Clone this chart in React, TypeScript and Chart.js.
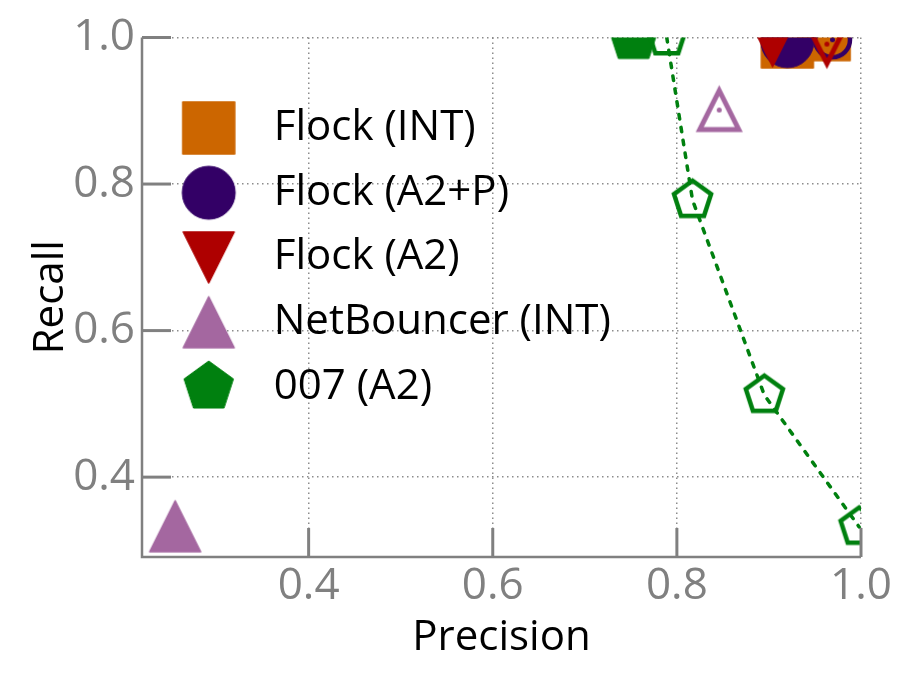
import React, { useEffect, useRef } from 'react';
import { Chart, registerables } from 'chart.js';

Chart.register(...registerables);

// ---- data ----
const xTickValues = [0.4, 0.6, 0.8, 1.0];
const yTickValues = [0.4, 0.6, 0.8, 1.0];
const xLimits = [0.219, 1.0];
const yLimits = [0.291, 1.0];

const seriesLabels = ['Flock (INT)', 'Flock (A2+P)', 'Flock (A2)', 'NetBouncer (INT)', '007 (A2)'];

const flockIntPrecision = [0.92, 0.96];
const flockIntRecall = [0.994, 1.004];
const flockIntHollow = [false, false];

const flockA2PPrecision = [0.92, 0.969];
const flockA2PRecall = [0.995, 0.997];
const flockA2PHollow = [false, true];

const flockA2Precision = [0.904, 0.963];
const flockA2Recall = [0.995, 0.991];
const flockA2Hollow = [false, true];

const netBouncerPrecision = [0.255, 0.846];
const netBouncerRecall = [0.333, 0.901];
const netBouncerHollow = [false, true];

const sevenPrecision = [0.753];
const sevenRecall = [1.0];

const sevenSweepPrecision = [0.789, 0.817, 0.895, 0.998];
const sevenSweepRecall = [1.0, 0.778, 0.512, 0.332];

// ---- styles ----
const ORANGE = '#CC6600';
const PURPLE = '#330066';
const RED = '#AE0000';
const MAUVE = '#A467A0';
const GREEN = '#00800F';
const GRAY = '#808080';
const FONT = 'Open Sans';

type Shape = 'square' | 'circle' | 'triUp' | 'triDown' | 'pentagon';

function makeMarker(shape: Shape, half: number, color: string, filled: boolean, lw: number, dot = false) {
  const size = Math.ceil(2 * half + lw * 4 + 6);
  const cv = document.createElement('canvas');
  cv.width = size;
  cv.height = size;
  const ctx = cv.getContext('2d')!;
  const c = size / 2;
  ctx.beginPath();
  if (shape === 'square') {
    ctx.rect(c - half, c - half, 2 * half, 2 * half);
  } else if (shape === 'circle') {
    ctx.arc(c, c, half, 0, Math.PI * 2);
  } else if (shape === 'triUp') {
    ctx.moveTo(c, c - half);
    ctx.lineTo(c + half, c + half);
    ctx.lineTo(c - half, c + half);
    ctx.closePath();
  } else if (shape === 'triDown') {
    ctx.moveTo(c, c + half);
    ctx.lineTo(c - half, c - half);
    ctx.lineTo(c + half, c - half);
    ctx.closePath();
  } else {
    for (let k = 0; k < 5; k++) {
      const a = -Math.PI / 2 + (k * 2 * Math.PI) / 5;
      const px = c + half * Math.cos(a);
      const py = c + half * Math.sin(a);
      if (k === 0) ctx.moveTo(px, py);
      else ctx.lineTo(px, py);
    }
    ctx.closePath();
  }
  ctx.lineJoin = filled ? 'round' : 'miter';
  ctx.lineWidth = lw;
  ctx.strokeStyle = color;
  if (filled) {
    ctx.fillStyle = color;
    ctx.fill();
  }
  ctx.stroke();
  if (dot) {
    ctx.beginPath();
    ctx.arc(c, c, 2.5, 0, Math.PI * 2);
    ctx.fillStyle = color;
    ctx.fill();
  }
  return cv;
}

function toPoints(xs: number[], ys: number[]) {
  return xs.map((x, i) => ({ x, y: ys[i] }));
}

export default function App() {
  const ref = useRef<HTMLCanvasElement>(null);

  useEffect(() => {
    if (!ref.current) return;

    const filled = {
      square: makeMarker('square', 26, ORANGE, true, 1.5),
      circle: makeMarker('circle', 26.5, PURPLE, true, 1),
      triDown: makeMarker('triDown', 25.5, RED, true, 1.5),
      triUp: makeMarker('triUp', 25.5, MAUVE, true, 1.5),
      pentagon: makeMarker('pentagon', 26, GREEN, true, 1),
    };
    const hollow = {
      square: makeMarker('square', 19, ORANGE, false, 4.5),
      circle: makeMarker('circle', 17.5, PURPLE, false, 4.5, true),
      triDown: makeMarker('triDown', 19.5, RED, false, 5, true),
      triUp: makeMarker('triUp', 19.5, MAUVE, false, 5, true),
      pentagon: makeMarker('pentagon', 19.5, GREEN, false, 4.5),
    };

    const styleFor = (key: keyof typeof filled, hollowFlags: boolean[]) => (ctx: any) =>
      hollowFlags[ctx.dataIndex] ? hollow[key] : filled[key];

    const base = { showLine: false, pointRadius: 22, clip: 0 };

    const inwardTicks = {
      id: 'inwardTicks',
      afterDatasetsDraw(chart: any) {
        const { ctx, chartArea: a, scales } = chart;
        ctx.save();
        ctx.strokeStyle = GRAY;
        ctx.lineWidth = 3;
        ctx.lineCap = 'butt';
        xTickValues.forEach((v) => {
          const px = scales.x.getPixelForValue(v);
          ctx.beginPath();
          ctx.moveTo(px, a.bottom);
          ctx.lineTo(px, a.bottom - 29);
          ctx.stroke();
        });
        yTickValues.forEach((v) => {
          const py = scales.y.getPixelForValue(v);
          ctx.beginPath();
          ctx.moveTo(a.left, py);
          ctx.lineTo(a.left + 29, py);
          ctx.stroke();
        });
        ctx.lineWidth = 2.5;
        ctx.beginPath();
        ctx.moveTo(a.left, a.top);
        ctx.lineTo(a.left, a.bottom);
        ctx.lineTo(a.right, a.bottom);
        ctx.stroke();
        ctx.restore();
      },
    };

    const chart = new Chart(ref.current, {
      type: 'scatter',
      data: {
        datasets: [
          {
            ...base,
            label: seriesLabels[0],
            data: toPoints(flockIntPrecision, flockIntRecall),
            pointStyle: styleFor('square', flockIntHollow),
            order: 6,
          },
          {
            ...base,
            label: seriesLabels[1],
            data: toPoints(flockA2PPrecision, flockA2PRecall),
            pointStyle: styleFor('circle', flockA2PHollow),
            order: 5,
          },
          {
            ...base,
            label: seriesLabels[2],
            data: toPoints(flockA2Precision, flockA2Recall),
            pointStyle: styleFor('triDown', flockA2Hollow),
            order: 4,
          },
          {
            ...base,
            label: seriesLabels[3],
            data: toPoints(netBouncerPrecision, netBouncerRecall),
            pointStyle: styleFor('triUp', netBouncerHollow),
            order: 3,
          },
          {
            ...base,
            label: seriesLabels[4],
            data: toPoints(sevenPrecision, sevenRecall),
            pointStyle: filled.pentagon,
            order: 2,
          },
          {
            ...base,
            label: seriesLabels[4] + ' sweep',
            data: toPoints(sevenSweepPrecision, sevenSweepRecall),
            pointStyle: hollow.pentagon,
            showLine: true,
            borderColor: GREEN,
            borderWidth: 3.5,
            borderDash: [4.5, 8.5],
            borderCapStyle: 'round',
            order: 1,
          },
        ] as any,
      },
      options: {
        animation: false,
        responsive: true,
        maintainAspectRatio: false,
        events: [],
        layout: { padding: { top: 37.5, right: 52, bottom: 0, left: 0 } },
        scales: {
          x: {
            type: 'linear',
            min: xLimits[0],
            max: xLimits[1],
            afterBuildTicks: (scale: any) => {
              scale.ticks = xTickValues.map((value) => ({ value }));
            },
            afterFit: (scale: any) => {
              scale.height = 128;
            },
            grid: { color: '#8c8c8c', lineWidth: 1.5, drawTicks: false },
            border: { display: false, dash: [1.5, 3.5] },
            ticks: {
              color: GRAY,
              padding: 3,
              font: { family: FONT, size: 44 },
              callback: (v: any) => Number(v).toFixed(1),
            },
            title: {
              display: true,
              text: 'Precision',
              color: '#000',
              font: { family: FONT, size: 42 },
              padding: { top: 0, bottom: 22 },
            },
          },
          y: {
            type: 'linear',
            min: yLimits[0],
            max: yLimits[1],
            afterBuildTicks: (scale: any) => {
              scale.ticks = yTickValues.map((value) => ({ value }));
            },
            afterFit: (scale: any) => {
              scale.width = 142;
            },
            grid: { color: '#8c8c8c', lineWidth: 1.5, drawTicks: false },
            border: { display: false, dash: [1.5, 3.5] },
            ticks: {
              color: GRAY,
              padding: 7,
              font: { family: FONT, size: 44 },
              callback: (v: any) => Number(v).toFixed(1),
            },
            title: {
              display: true,
              text: 'Recall',
              color: '#000',
              font: { family: FONT, size: 42 },
              padding: { top: 26, bottom: 0 },
            },
          },
        },
        plugins: {
          tooltip: { enabled: false },
          legend: {
            position: 'chartArea',
            align: 'start',
            title: {
              display: true,
              text: '',
              font: { size: 10, lineHeight: 1 },
              padding: { top: 17.6, bottom: 56.65 },
            },
            labels: {
              usePointStyle: true,
              pointStyleWidth: 88,
              padding: 22.75,
              color: '#000',
              font: { family: FONT, size: 42 },
              filter: (item: any) => item.datasetIndex < 5,
              sort: (a: any, b: any) => a.datasetIndex - b.datasetIndex,
            },
          },
        },
      } as any,
      plugins: [inwardTicks],
    });

    return () => chart.destroy();
  }, []);

  return (
    <div style={{ position: 'absolute', left: 0, top: 0, width: 913, height: 685 }}>
      <canvas ref={ref} />
    </div>
  );
}
